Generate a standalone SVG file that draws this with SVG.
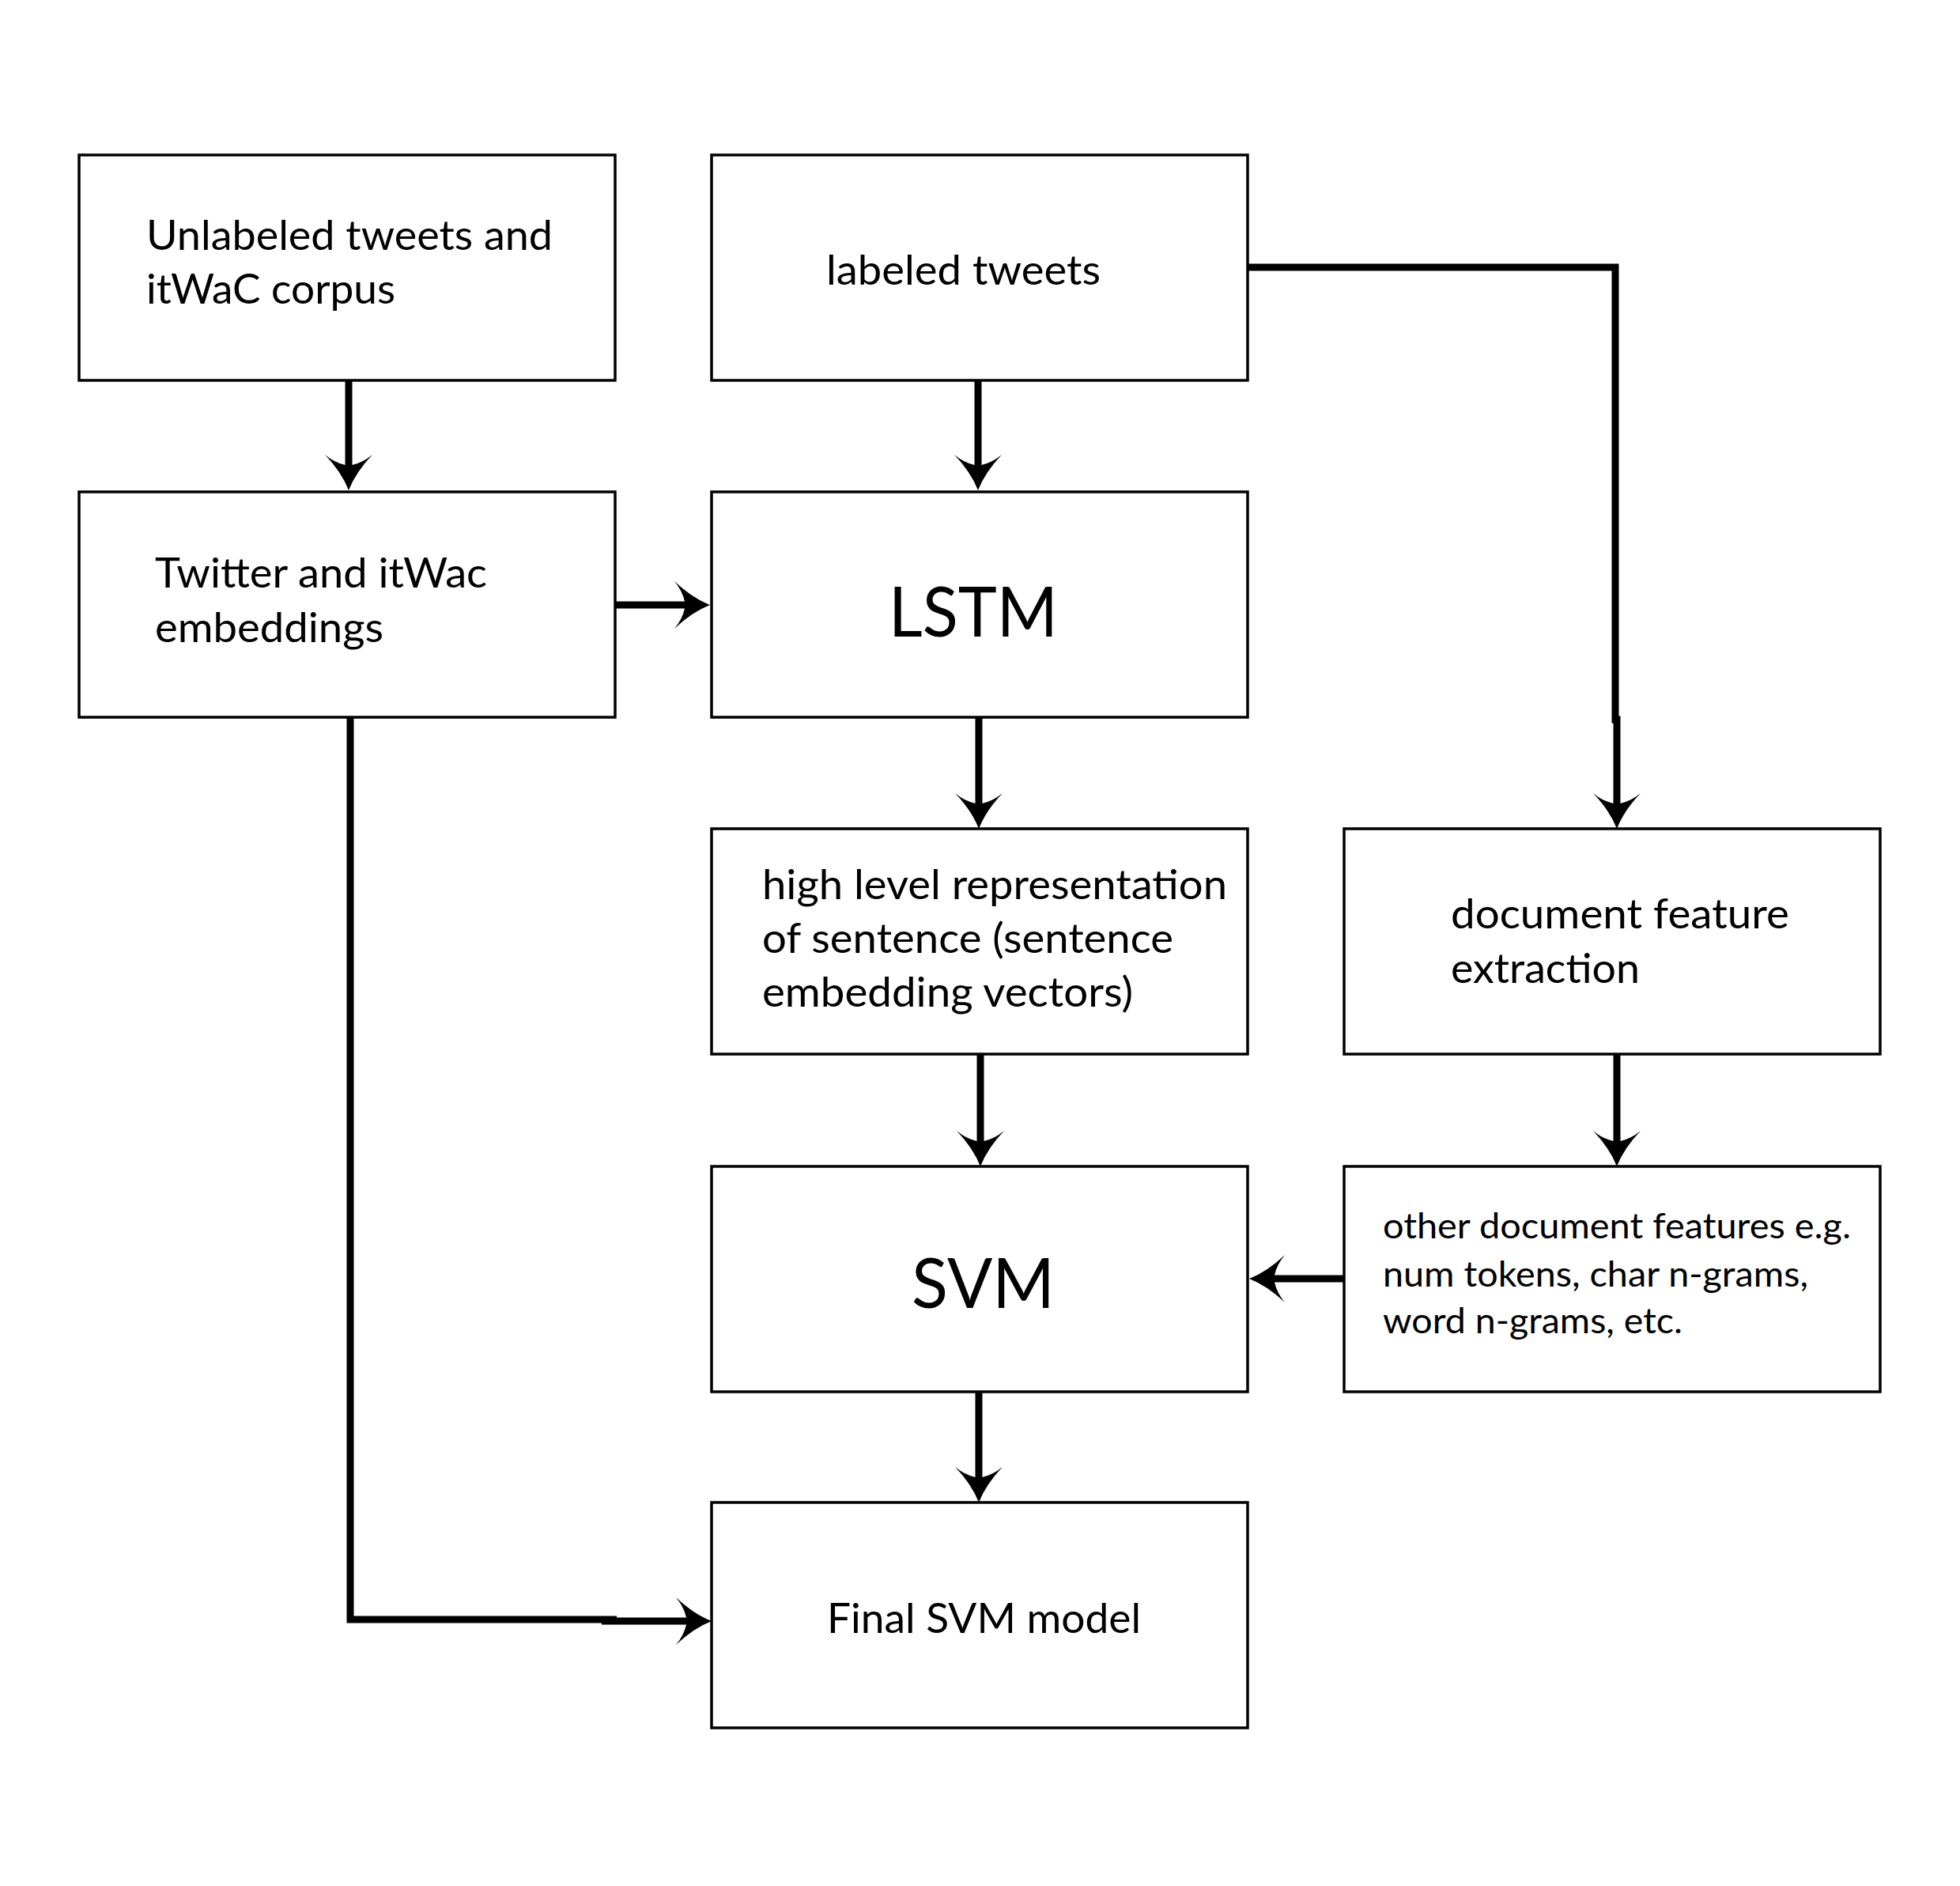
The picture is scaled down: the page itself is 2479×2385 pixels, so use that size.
<svg xmlns="http://www.w3.org/2000/svg" width="2479" height="2385" viewBox="0 0 2479 2385">
<style>
.box{fill:#fff;stroke:#000;stroke-width:3.5}
.t{font-family:Lato,"Open Sans","Liberation Sans",sans-serif;font-size:53px;fill:#000}
.big{font-size:88px}
.sm{font-size:45px}
.c{fill:none;stroke:#000;stroke-width:9;stroke-linejoin:miter}
</style>
<defs>
<marker id="ah" markerUnits="userSpaceOnUse" orient="auto" refX="0" refY="0" markerWidth="80" markerHeight="80" viewBox="-40 -40 80 80" overflow="visible">
<path d="M31,0 Q8,-9 -14,-30 Q-4,-18 -1,-4.5 L-1,4.5 Q-4,18 -14,30 Q8,9 31,0 Z" fill="#000"/>
</marker>
</defs>
<rect width="2479" height="2385" fill="#fff"/>
<g id="connectors">
<path class="c" d="M441,481 V589" marker-end="url(#ah)"/>
<path class="c" d="M1237,481 V589" marker-end="url(#ah)"/>
<path class="c" d="M778,765 H867" marker-end="url(#ah)"/>
<path class="c" d="M1238,907 V1017" marker-end="url(#ah)"/>
<path class="c" d="M1240,1333 V1444" marker-end="url(#ah)"/>
<path class="c" d="M1238,1760 V1869" marker-end="url(#ah)"/>
<path class="c" d="M1578,338 H2043 V910 H2045 V1017" marker-end="url(#ah)"/>
<path class="c" d="M2045,1333 V1444" marker-end="url(#ah)"/>
<path class="c" d="M1700,1617 H1611" marker-end="url(#ah)"/>
<path class="c" d="M443,907 V2048 H780"/>
<path class="c" d="M761,2050 H869" marker-end="url(#ah)"/>
</g>
<g id="n-unlabeled">
<rect class="box" x="100" y="196" width="678" height="285"/>
<text class="t" x="185" y="316" textLength="514" lengthAdjust="spacingAndGlyphs">Unlabeled tweets and</text>
<text class="t" x="185" y="384" textLength="315" lengthAdjust="spacingAndGlyphs">itWaC corpus</text>
</g>
<g id="n-labeled">
<rect class="box" x="900" y="196" width="678" height="285"/>
<text class="t" x="1045" y="360" textLength="347" lengthAdjust="spacingAndGlyphs">labeled tweets</text>
</g>
<g id="n-embeddings">
<rect class="box" x="100" y="622" width="678" height="285"/>
<text class="t" x="196" y="743" textLength="420" lengthAdjust="spacingAndGlyphs">Twitter and itWac</text>
<text class="t" x="196" y="812" textLength="289" lengthAdjust="spacingAndGlyphs">embeddings</text>
</g>
<g id="n-lstm">
<rect class="box" x="900" y="622" width="678" height="285"/>
<text class="t big" x="1124" y="805" textLength="214" lengthAdjust="spacingAndGlyphs">LSTM</text>
</g>
<g id="n-highlevel">
<rect class="box" x="900" y="1048" width="678" height="285"/>
<text class="t" x="964" y="1137" textLength="588" lengthAdjust="spacingAndGlyphs">high level representation</text>
<text class="t" x="964" y="1205" textLength="520" lengthAdjust="spacingAndGlyphs">of sentence (sentence</text>
<text class="t" x="964" y="1273" textLength="469" lengthAdjust="spacingAndGlyphs">embedding vectors)</text>
</g>
<g id="n-docfeature">
<rect class="box" x="1700" y="1048" width="678" height="285"/>
<text class="t" x="1835" y="1174" textLength="428" lengthAdjust="spacingAndGlyphs">document feature</text>
<text class="t" x="1835" y="1243" textLength="239" lengthAdjust="spacingAndGlyphs">extraction</text>
</g>
<g id="n-svm">
<rect class="box" x="900" y="1475" width="678" height="285"/>
<text class="t big" x="1153" y="1654" textLength="181" lengthAdjust="spacingAndGlyphs">SVM</text>
</g>
<g id="n-other">
<rect class="box" x="1700" y="1475" width="678" height="285"/>
<text class="t sm" x="1749" y="1566" textLength="592" lengthAdjust="spacingAndGlyphs">other document features e.g.</text>
<text class="t sm" x="1749" y="1627" textLength="538" lengthAdjust="spacingAndGlyphs">num tokens, char n-grams,</text>
<text class="t sm" x="1749" y="1686" textLength="379" lengthAdjust="spacingAndGlyphs">word n-grams, etc.</text>
</g>
<g id="n-final">
<rect class="box" x="900" y="1900" width="678" height="285"/>
<text class="t" x="1046" y="2065" textLength="397" lengthAdjust="spacingAndGlyphs">Final SVM model</text>
</g>
</svg>
